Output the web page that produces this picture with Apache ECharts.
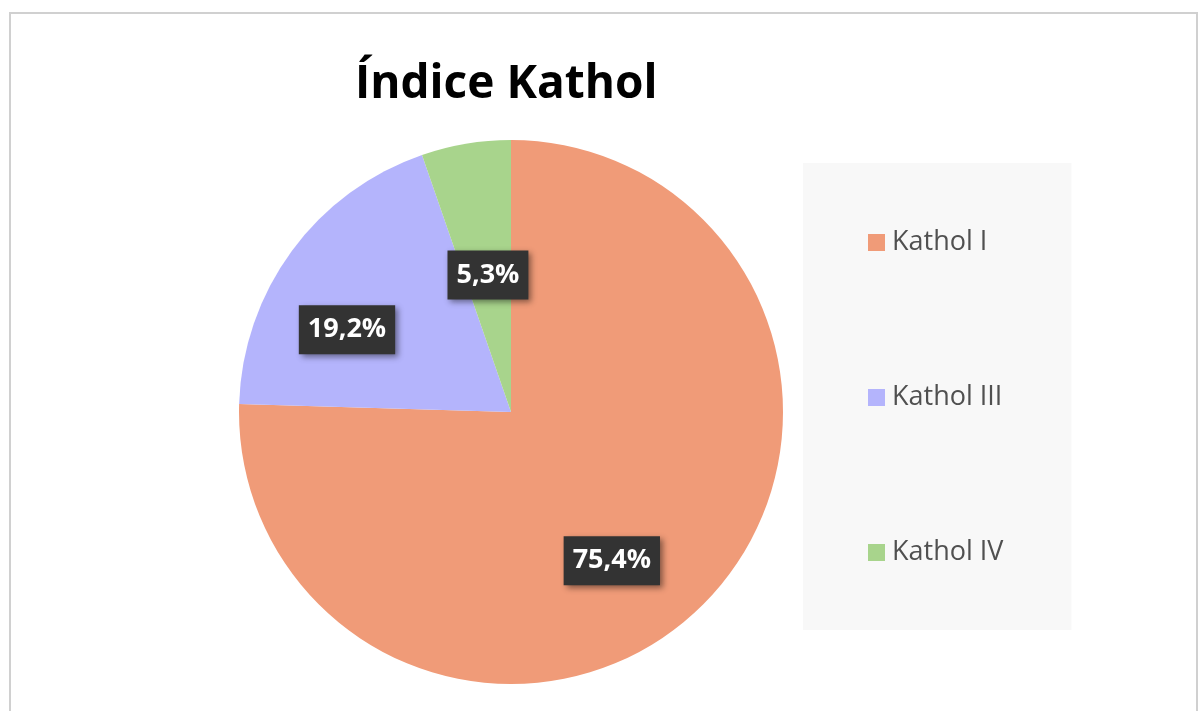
<!DOCTYPE html>
<html>
<head>
<meta charset="utf-8">
<script src="https://cdn.jsdelivr.net/npm/echarts@6/dist/echarts.min.js"></script>
<style>
html,body{margin:0;padding:0;background:#fff;}
#chart{width:1200px;height:711px;}
</style>
</head>
<body>
<div id="chart"></div>
<script>
const titleText = 'Índice Kathol';
const categories = ['Kathol I', 'Kathol III', 'Kathol IV'];
const values = [75.4, 19.2, 5.3];
const colors = ['#f09b78', '#b4b4fc', '#a8d48c'];
// label nudges relative to the library's 'inside' position (style only)
const labelNudge = [[4, 49], [-52, 0], [0, 0]];

const chart = echarts.init(document.getElementById('chart'));
chart.setOption({
  backgroundColor: '#ffffff',
  animation: false,
  color: colors,
  graphic: [{
    type: 'rect',
    shape: { x: 10, y: 13, width: 1187, height: 730 },
    style: { fill: 'none', stroke: '#d0d0d0', lineWidth: 2 },
    silent: true
  }],
  title: {
    text: titleText,
    left: 350,
    top: 57,
    textStyle: { fontFamily: 'Open Sans', fontWeight: 'bold', fontSize: 46, color: '#000000' }
  },
  legend: {
    orient: 'vertical',
    left: 803,
    top: 163,
    padding: [66, 68, 64, 65],
    backgroundColor: '#f8f8f8',
    icon: 'rect',
    itemWidth: 17,
    itemHeight: 17,
    itemGap: 128,
    data: categories,
    textStyle: { fontFamily: 'Open Sans', fontSize: 27, color: '#505050', lineHeight: 27, padding: [0, 0, 0, 2] }
  },
  series: [{
    type: 'pie',
    center: [511, 412],
    radius: [0, 272],
    startAngle: 90,
    clockwise: true,
    data: categories.map((c, i) => ({ name: c, value: values[i] })),
    label: {
      show: true,
      position: 'inside',
      formatter: p => p.value.toFixed(1).replace('.', ',') + '%',
      fontFamily: 'Open Sans',
      fontWeight: 'bold',
      fontSize: 27,
      color: '#ffffff',
      backgroundColor: '#333333',
      padding: [12, 9, 10, 9],
      shadowColor: 'rgba(0,0,0,0.45)',
      shadowBlur: 6,
      shadowOffsetX: 3,
      shadowOffsetY: 3
    },
    labelLine: { show: false },
    labelLayout: function (params) {
      const n = labelNudge[params.dataIndex] || [0, 0];
      return { dx: n[0], dy: n[1] };
    },
    emphasis: { disabled: true },
    itemStyle: { borderWidth: 0 }
  }]
});
</script>
</body>
</html>
